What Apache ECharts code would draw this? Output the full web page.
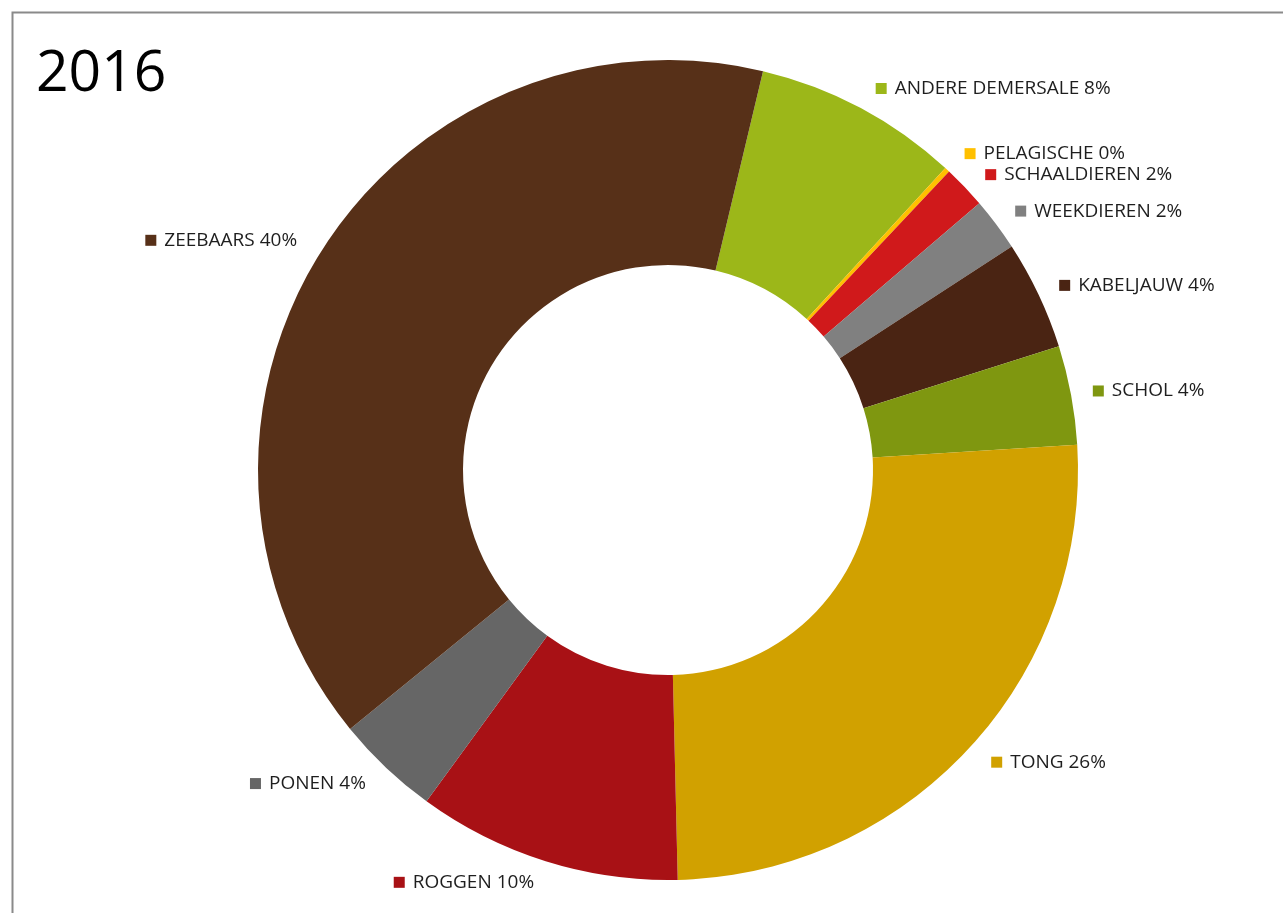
<!DOCTYPE html>
<html>
<head>
<meta charset="utf-8">
<script src="https://cdn.jsdelivr.net/npm/echarts@6/dist/echarts.min.js"></script>
<style>
html,body{margin:0;padding:0;background:#fff;}
#chart{width:1283px;height:913px;}
</style>
</head>
<body>
<div id="chart"></div>
<script>
const titleText = '2016';
const categories = ['ANDERE DEMERSALE','PELAGISCHE','SCHAALDIEREN','WEEKDIEREN','KABELJAUW','SCHOL','TONG','ROGGEN','PONEN','ZEEBAARS'];
const values = [8.1, 0.2, 1.7, 2.1, 4.3, 3.9, 25.6, 10.4, 4.1, 39.6];
const colors = ['#9CB719','#FFC000','#D0191B','#808080','#4A2413','#7F9710','#D1A100','#A81115','#666666','#573018'];

const rich = { t: { fontFamily: 'Open Sans', fontSize: 19, lineHeight: 34, color: '#1e1e1e', padding: [0,0,0,8] } };
colors.forEach((c, i) => { rich['s' + i] = { width: 11, height: 11, backgroundColor: c }; });

const chart = echarts.init(document.getElementById('chart'), null, { renderer: 'canvas' });
chart.setOption({
  animation: false,
  backgroundColor: '#fff',
  title: {
    text: titleText, left: 31, top: 41,
    textStyle: { fontFamily: 'Open Sans', fontSize: 57, fontWeight: 'normal', color: '#000' }
  },
  graphic: [{
    type: 'rect', left: 10, top: 10, shape: { width: 1300, height: 940 },
    style: { fill: 'none', stroke: '#8a8a8a', lineWidth: 2 }, silent: true
  }],
  series: [{
    type: 'pie',
    center: [668, 470],
    radius: [205, 410],
    startAngle: 76.6,
    clockwise: true,
    percentPrecision: 0,
    avoidLabelOverlap: true,
    itemStyle: { borderWidth: 0 },
    label: {
      show: true, position: 'outside',
      formatter: p => '{s' + p.dataIndex + '|}{t|' + p.name + ' ' + p.percent + '%}',
      rich: rich
    },
    labelLine: { show: false, length: 22, length2: 0 },
    emphasis: { disabled: true },
    data: categories.map((n, i) => ({ name: n, value: values[i], itemStyle: { color: colors[i] } }))
  }]
});
</script>
</body>
</html>
